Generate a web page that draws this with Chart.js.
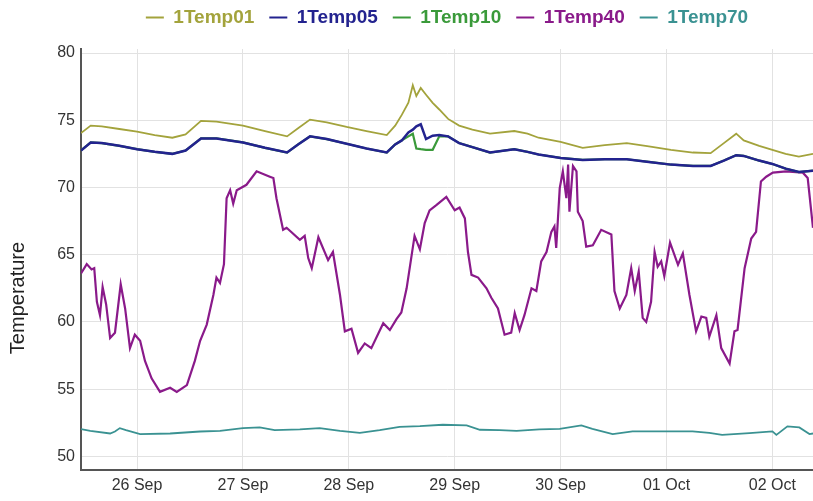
<!DOCTYPE html>
<html>
<head>
<meta charset="utf-8">
<script src="https://cdn.jsdelivr.net/npm/chart.js@4.4.0/dist/chart.umd.min.js"></script>
<style>
  html, body { margin: 0; padding: 0; background: #fff; }
</style>
</head>
<body>
<canvas id="chart" width="813" height="501"></canvas>
<script>
// hours counted from 26 Sep 00:00
const xTickHours = [0, 24, 48, 72, 96, 120, 144];
const xTickLabels = ['26 Sep', '27 Sep', '28 Sep', '29 Sep', '30 Sep', '01 Oct', '02 Oct'];
const yTicks = [50, 55, 60, 65, 70, 75, 80];
const axisTitle = 'Temperature';

// 1Temp01 / 1Temp05 / 1Temp10 share the same sample hours
const hoursMain = [-12.7, -10.5, -8, -4, 0, 4, 8, 11, 14.5, 18, 24, 29, 34, 36.5, 39.2, 43, 47.5, 52, 56.6, 58.5,
  60, 61.5, 62.5, 63.3, 64.3, 65.5, 67, 68.5, 70.5, 73, 76, 80, 85.5, 88.5, 91, 96, 101, 106, 111, 116,
  121, 126, 130, 133, 135.8, 137.5, 141, 144, 147, 150, 153.2];
const temp01 = [74.05, 74.6, 74.55, 74.35, 74.15, 73.9, 73.7, 73.95, 74.95, 74.9, 74.6, 74.2, 73.8, 74.4, 75.05, 74.85, 74.5, 74.2, 73.9, 74.6,
  75.4, 76.3, 77.6, 76.8, 77.4, 76.9, 76.3, 75.8, 75.1, 74.6, 74.3, 74.0, 74.2, 74.0, 73.7, 73.4, 72.95, 73.15, 73.3, 73.05,
  72.8, 72.6, 72.55, 73.3, 74.0, 73.5, 73.1, 72.8, 72.5, 72.3, 72.5];
const temp05 = [72.75, 73.35, 73.3, 73.1, 72.85, 72.65, 72.5, 72.75, 73.65, 73.65, 73.35, 72.95, 72.6, 73.2, 73.8, 73.6, 73.25, 72.9, 72.6, 73.2,
  73.5, 74.1, 74.3, 74.55, 74.7, 73.6, 73.85, 73.9, 73.8, 73.3, 73.0, 72.6, 72.85, 72.65, 72.45, 72.2, 72.05, 72.1, 72.1, 71.9,
  71.7, 71.6, 71.6, 72.0, 72.4, 72.35, 72.0, 71.75, 71.4, 71.15, 71.25];
const temp10 = [72.75, 73.35, 73.3, 73.1, 72.85, 72.65, 72.5, 72.75, 73.65, 73.65, 73.35, 72.95, 72.6, 73.2, 73.8, 73.6, 73.25, 72.9, 72.6, 73.2,
  73.5, 73.8, 74.0, 72.9, 72.85, 72.8, 72.8, 73.8, 73.8, 73.3, 73.0, 72.6, 72.85, 72.65, 72.45, 72.2, 72.05, 72.1, 72.1, 71.9,
  71.7, 71.6, 71.6, 72.0, 72.4, 72.35, 72.0, 71.75, 71.4, 71.15, 71.25];

const hours40 = [-12.7, -11.4, -10.3, -9.7, -9.1, -8.4, -7.8, -7.0, -6.1, -5.0, -3.7, -2.7, -1.6, -0.5, 0.7, 1.8, 3.3, 5.2, 7.5, 9.0,
  11.3, 13.1, 14.3, 15.8, 17.3, 18.0, 18.8, 19.7, 20.3, 21.1, 21.8, 22.6, 24.8, 27.1, 30.1, 30.9, 31.6, 33.1, 33.9, 36.9,
  38.0, 38.8, 39.6, 41.1, 43.3, 44.4, 46.0, 47.1, 48.6, 50.1, 51.6, 53.1, 55.8, 57.3, 58.8, 59.9, 61.1, 62.9, 64.1, 65.2,
  66.3, 67.9, 70.1, 72.0, 73.1, 74.3, 75.0, 75.8, 77.3, 79.2, 80.3, 81.8, 83.3, 84.8, 85.6, 86.7, 87.8, 89.4, 90.5, 91.6,
  92.8, 93.9, 94.6, 95.0, 95.8, 96.5, 97.3, 97.7, 98.0, 98.8, 99.6, 99.9, 101.0, 101.8, 103.3, 105.2, 107.5, 108.2, 109.4, 110.9,
  112.0, 112.8, 113.7, 114.6, 115.4, 116.5, 117.3, 118.0, 118.8, 119.5, 120.8, 122.6, 123.7, 125.2, 126.7, 127.9, 129.0, 129.7, 131.3, 132.4,
  134.3, 135.4, 136.1, 137.7, 139.2, 140.3, 141.4, 142.6, 144.1, 147.1, 150.9, 152.0, 153.2];
const temp40 = [63.6, 64.3, 63.9, 64.0, 61.5, 60.5, 62.6, 61.3, 58.8, 59.2, 62.8, 61.0, 58.05, 59.05, 58.6, 57.1, 55.8, 54.8, 55.1, 54.8,
  55.3, 57.1, 58.6, 59.8, 62.0, 63.3, 62.9, 64.3, 69.2, 69.8, 68.8, 69.8, 70.2, 71.2, 70.8, 70.7, 69.2, 66.85, 67.0, 66.1,
  66.4, 64.75, 64.0, 66.3, 64.6, 65.2, 62.0, 59.3, 59.5, 57.7, 58.4, 58.05, 59.9, 59.4, 60.2, 60.7, 62.5, 66.4, 65.4, 67.35,
  68.3, 68.7, 69.3, 68.3, 68.5, 67.7, 65.2, 63.5, 63.3, 62.5, 61.8, 61.0, 59.05, 59.2, 60.65, 59.4, 60.5, 62.5, 62.3, 64.5,
  65.2, 66.7, 67.1, 65.5, 69.95, 71.2, 69.2, 71.7, 68.2, 71.6, 71.2, 68.2, 67.5, 65.6, 65.7, 66.85, 66.5, 62.3, 61.0, 62.0,
  64.0, 62.3, 63.75, 60.3, 60.0, 61.5, 65.2, 64.1, 64.5, 63.4, 65.9, 64.25, 65.1, 62.0, 59.3, 60.4, 60.3, 58.9, 60.5, 58.05,
  56.9, 59.3, 59.4, 64.0, 66.2, 66.7, 70.45, 70.8, 71.1, 71.2, 71.1, 70.7, 67.0];

const hours70 = [-12.7, -10.6, -6.1, -5.0, -3.9, -2.5, 0.7, 7.5, 14.3, 18.8, 24, 27.8, 31.2, 36.9, 41.4, 46, 50.5, 55, 59.5, 64.1,
  69.3, 74.7, 77.7, 82.2, 86, 91.2, 95.8, 100.7, 103.2, 107.8, 112.3, 120, 125.9, 129.7, 132.6, 138.8, 144, 144.9, 147.4, 150.1,
  152.4, 153.2];
const temp70 = [52.03, 51.9, 51.7, 51.85, 52.1, 51.95, 51.65, 51.7, 51.85, 51.9, 52.1, 52.15, 51.95, 52.0, 52.1, 51.9, 51.75, 51.95, 52.2, 52.25,
  52.35, 52.3, 51.98, 51.95, 51.9, 52.0, 52.05, 52.3, 52.05, 51.66, 51.86, 51.86, 51.86, 51.75, 51.6, 51.73, 51.86, 51.6, 52.23, 52.15,
  51.66, 51.7];

const toPoints = (xs, ys) => xs.map((x, i) => ({ x: x, y: ys[i] }));

// legend sits a bit higher above the plot
const legendGap = {
  id: 'legendGap',
  beforeInit(chart) {
    const fit = chart.legend.fit;
    chart.legend.fit = function () { fit.call(this); this.height += 12; };
  }
};

const yTitle = {
  id: 'yTitle',
  afterDraw(chart) {
    const ctx = chart.ctx;
    ctx.save();
    ctx.translate(18, 298);
    ctx.rotate(-Math.PI / 2);
    ctx.font = '20px "Liberation Sans", Arial, sans-serif';
    ctx.fillStyle = '#222';
    ctx.textAlign = 'center';
    ctx.textBaseline = 'middle';
    ctx.fillText(axisTitle, 0, 0);
    ctx.restore();
  }
};

const line = (label, color, pts, width) => ({
  label: label,
  data: pts,
  borderColor: color,
  backgroundColor: color,
  borderWidth: width,
  pointRadius: 0,
  tension: 0
});

new Chart(document.getElementById('chart'), {
  type: 'line',
  data: {
    datasets: [
      line('1Temp01', '#a3a33c', toPoints(hoursMain, temp01), 1.8),
      line('1Temp05', '#23238f', toPoints(hoursMain, temp05), 2.5),
      line('1Temp10', '#3a9a3a', toPoints(hoursMain, temp10), 2.2),
      line('1Temp40', '#8a1a8a', toPoints(hours40, temp40), 2.2),
      line('1Temp70', '#3a9292', toPoints(hours70, temp70), 1.8)
    ]
  },
  options: {
    responsive: false,
    animation: false,
    layout: { padding: { left: 0, right: 0, top: -7, bottom: 0 } },
    plugins: {
      legend: {
        position: 'top',
        fullSize: false,
        labels: {
          boxWidth: 18,
          boxHeight: 2,
          padding: 15,
          font: { family: '"Liberation Sans", Arial, sans-serif', size: 19, weight: 'bold' },
          generateLabels(chart) {
            return chart.data.datasets.map((ds, i) => ({
              text: ds.label,
              fillStyle: ds.borderColor,
              strokeStyle: ds.borderColor,
              fontColor: ds.borderColor,
              lineWidth: 0,
              hidden: false,
              datasetIndex: i
            }));
          }
        }
      },
      tooltip: { enabled: false }
    },
    scales: {
      x: {
        type: 'linear',
        min: -12.7,
        max: 153.2,
        afterBuildTicks(axis) { axis.ticks = xTickHours.map(v => ({ value: v })); },
        ticks: {
          padding: 6,
          maxRotation: 0,
          color: '#333',
          font: { family: '"Liberation Sans", Arial, sans-serif', size: 16 },
          callback: v => xTickLabels[xTickHours.indexOf(v)]
        },
        grid: { color: '#e2e2e2', drawTicks: false },
        border: { color: '#555', width: 2 }
      },
      y: {
        min: 49,
        max: 80.3,
        afterBuildTicks(axis) { axis.ticks = yTicks.map(v => ({ value: v })); },
        afterFit(axis) { axis.width = 81; },
        ticks: {
          padding: 6,
          color: '#333',
          font: { family: '"Liberation Sans", Arial, sans-serif', size: 16 }
        },
        grid: { color: '#e2e2e2', drawTicks: false },
        border: { color: '#555', width: 2 }
      }
    }
  },
  plugins: [legendGap, yTitle]
});
</script>
</body>
</html>
